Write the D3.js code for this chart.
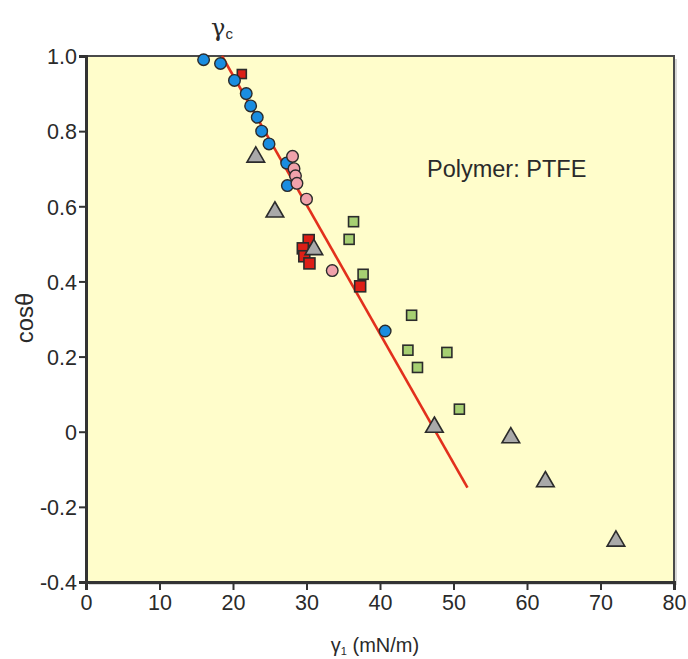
<!DOCTYPE html>
<html><head><meta charset="utf-8">
<script src="https://cdn.jsdelivr.net/npm/d3@7"></script>
<style>body{margin:0;background:#fff;} text{font-family:"Liberation Sans",Arial,sans-serif;fill:#2a2a2a;}</style>
</head><body><svg id="c" width="688" height="659"></svg>
<script>
// Data (γl in mN/m, cosθ)
const blueCircles = [[16.0,0.99],[18.3,0.98],[20.2,0.935],[21.8,0.90],[22.4,0.867],[23.3,0.837],[23.9,0.80],[24.9,0.766],[27.3,0.715],[27.4,0.655],[40.7,0.268]];
const pinkCircles = [[28.1,0.733],[28.3,0.70],[28.5,0.681],[28.7,0.661],[30.0,0.619],[33.5,0.429]];
const redSquares = [[30.3,0.51],[29.5,0.488],[29.7,0.467],[30.4,0.448],[37.3,0.387]];
const redSquaresSmall = [[21.2,0.952]];
const greenSquares = [[36.4,0.559],[35.8,0.512],[37.7,0.419],[44.3,0.31],[43.8,0.217],[49.1,0.211],[45.1,0.171],[50.8,0.06]];
const grayTriangles = [[23.1,0.731],[25.7,0.585],[31.0,0.485],[47.4,0.012],[57.8,-0.016],[62.5,-0.133],[72.1,-0.291]];
const fitLine = [[18.5,1.0],[51.9,-0.149]];
const xTicks = [0,10,20,30,40,50,60,70,80];
const yTicks = [1.0,0.8,0.6,0.4,0.2,0,-0.2,-0.4];
const yTickLabels = ["1.0","0.8","0.6","0.4","0.2","0","-0.2","-0.4"];

const svg = d3.select("#c");
const L=86, R=674, T=56, B=582;
const x = d3.scaleLinear().domain([0,80]).range([L,R]);
const y = d3.scaleLinear().domain([-0.4,1.0]).range([B,T]);

// plot background + frame
svg.append("rect").attr("x",L+3).attr("y",T+3).attr("width",R-L).attr("height",B-T).attr("fill","#d8d8d8");
svg.append("rect").attr("x",L).attr("y",T).attr("width",R-L).attr("height",B-T)
  .attr("fill","#fffdcb").attr("stroke","#4a4a4a").attr("stroke-width",2);

// fit line
svg.append("line").attr("x1",x(fitLine[0][0])).attr("y1",y(fitLine[0][1]))
  .attr("x2",x(fitLine[1][0])).attr("y2",y(fitLine[1][1]))
  .attr("stroke","#e2301c").attr("stroke-width",2.6);

// axes
const xAxis = svg.append("g").attr("transform",`translate(0,${B})`)
  .call(d3.axisBottom(x).tickValues(xTicks).tickSize(8).tickPadding(5).tickFormat(d3.format("d")));
const yAxis = svg.append("g").attr("transform",`translate(${L},0)`)
  .call(d3.axisLeft(y).tickValues(yTicks).tickSize(7).tickPadding(2).tickFormat((d,i)=>yTickLabels[i]));
[xAxis,yAxis].forEach(g=>{
  g.select(".domain").attr("stroke","#333").attr("stroke-width",3);
  g.selectAll(".tick line").attr("stroke","#333").attr("stroke-width",2);
  g.selectAll(".tick text").attr("font-size",21.5).attr("fill","#2a2a2a").attr("font-family","Liberation Sans, Arial, sans-serif");
});
yAxis.selectAll(".tick text").attr("dy","0.36em");

const stroke="#2b2b2b";
// markers
const sq = (data, side, fill) => svg.append("g").selectAll("rect").data(data).join("rect")
  .attr("x",d=>x(d[0])-side/2).attr("y",d=>y(d[1])-side/2).attr("width",side).attr("height",side)
  .attr("fill",fill).attr("stroke",stroke).attr("stroke-width",1.6);
const circ = (data, fill) => svg.append("g").selectAll("circle").data(data).join("circle")
  .attr("cx",d=>x(d[0])).attr("cy",d=>y(d[1])).attr("r",5.8)
  .attr("fill",fill).attr("stroke",stroke).attr("stroke-width",1.4);

sq(greenSquares, 10, "#a6cf72");
sq(redSquares, 11, "#dd1f16");
sq(redSquaresSmall, 9, "#dd1f16");
svg.append("g").selectAll("path").data(grayTriangles).join("path")
  .attr("transform",d=>`translate(${x(d[0])},${y(d[1])})`)
  .attr("d",d3.symbol(d3.symbolTriangle,135))
  .attr("fill","#a9a9a9").attr("stroke",stroke).attr("stroke-width",1.6);
circ(blueCircles, "#1a8de0");
circ(pinkCircles, "#f0a2ab");

// texts
const gc = svg.append("text").attr("x",222).attr("y",36).attr("text-anchor","middle").attr("font-size",24).attr("fill","#333");
gc.append("tspan").text("γ").attr("font-family","DejaVu Serif, serif");
gc.append("tspan").text("c").attr("font-size",15).attr("dy",3);

svg.append("text").attr("x",427).attr("y",177).attr("font-size",23.5).text("Polymer: PTFE");

svg.append("text").attr("transform","translate(33,318) rotate(-90)").attr("text-anchor","middle")
  .attr("font-size",24).text("cosθ");

const xl = svg.append("text").attr("x",375).attr("y",652).attr("text-anchor","middle").attr("font-size",20);
xl.append("tspan").text("γ");
xl.append("tspan").text("1").attr("font-size",11).attr("dy",3);
xl.append("tspan").text(" (mN/m)").attr("dy",-3);
</script></body></html>
